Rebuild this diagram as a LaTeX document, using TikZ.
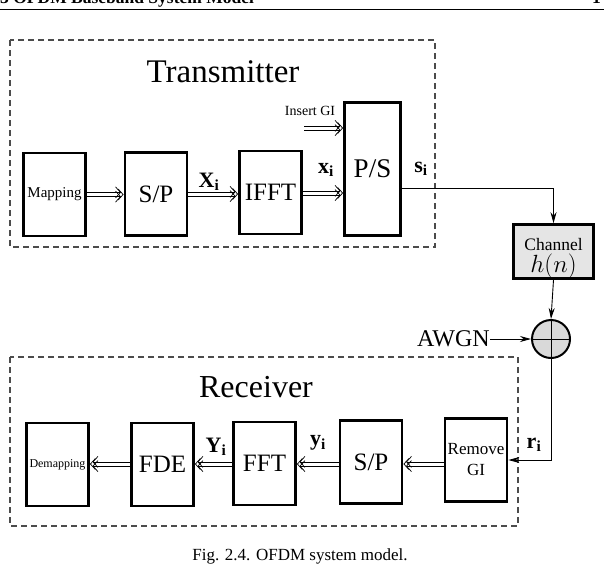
\documentclass[tikz,border=0pt]{standalone}
\usepackage{fontspec}
\setmainfont{Liberation Serif}
\usetikzlibrary{arrows.meta}
\tikzset{
  blk/.style={draw, line width=2.8pt, inner sep=0pt, align=center, minimum width=62pt, minimum height=83pt},
  dbl/.style={line width=0.7pt, dash pattern=on 0pt off 2000pt, line cap=butt,
    -{Straight Barb[length=5pt,width=11pt,line width=0.7pt]},
    postaction={draw, solid, line width=0.7pt, shorten >=2.6pt, transform canvas={yshift=2.1pt}},
    postaction={draw, solid, line width=0.7pt, shorten >=2.6pt, transform canvas={yshift=-2.1pt}}},
  sgl/.style={line width=0.9pt, -{Stealth[length=11pt,width=6pt]}},
  frame/.style={draw=black!70, line width=1.1pt, dash pattern=on 6pt off 4pt},
  lbl/.style={font=\fontsize{22}{22}\selectfont, inner sep=0pt},
}
\newcommand{\fs}[1]{\fontsize{#1}{#1}\selectfont}
\begin{document}
\begin{tikzpicture}[x=1pt,y=-1pt]
\useasboundingbox (0,0) rectangle (604,566);
\clip (0,0) rectangle (604,566);
% header
\node[anchor=base west, inner sep=0pt, font=\fs{17.5}\bfseries] (hdr) at (0,3) {3 OFDM Baseband System Model};
\node[anchor=base west, inner sep=0pt, font=\fs{17.5}\bfseries] (pg) at (592,3) {1};
\draw[line width=1pt] (0,9) -- (604,9);
% frames
\draw[frame] (10,40) rectangle (435,247);
\draw[frame] (10,357) rectangle (518,526);
\node[anchor=base, inner sep=0pt, font=\fs{33}] (tt) at (223,82) {Transmitter};
\node[anchor=base, inner sep=0pt, font=\fs{32}] (rt) at (256,397) {Receiver};
% transmitter blocks
\node[blk, font=\fs{15}] (map) at (54.5,194.5) {Mapping};
\node[blk, font=\fs{25}] (sptx) at (156,194) {S/P};
\node[blk, font=\fs{25}] (ifft) at (270.5,192.5) {IFFT};
\node[blk, font=\fs{27}, minimum width=56pt, minimum height=133pt] (ps) at (372.5,169) {P/S};
\draw[dbl] (map.east) -- (sptx.west |- map.east);
\draw[dbl] (sptx.east) -- (ifft.west |- sptx.east);
\coordinate (xin) at (303,193);
\draw[dbl] (xin) -- (ps.west |- xin);
\coordinate (gi) at (304,128);
\draw[dbl] (gi) -- (ps.west |- gi);
\node[anchor=base, inner sep=0pt, font=\fs{14}] (gitxt) at (310,115) {Insert GI};
\node[lbl] (Xi) at (209,182) {$\mathbf{X}_\mathbf{i}$};
\node[lbl] (xi) at (326,170) {$\mathbf{x}_\mathbf{i}$};
\node[lbl] (si) at (421,169) {$\mathbf{s}_\mathbf{i}$};
% channel
\node[blk, fill=black!10, line width=2.6pt, minimum width=80pt, minimum height=54pt] (ch) at (553.5,251.5) {};
\node[anchor=base, inner sep=0pt, font=\fs{17.5}] (chtxt) at (553.5,250) {Channel};
\node[anchor=base, inner sep=0pt, font=\fs{23}] (hn) at (553.5,272) {$h(n)$};
\coordinate (sline) at (402,188);
\draw[sgl] (ps.east |- sline) -| (ch.north);
% adder
\node[circle, draw, line width=2pt, fill=black!15, minimum size=38pt, inner sep=0pt] (add) at (551,339) {};
\draw[line width=0.8pt] (add.north) -- (add.south) (add.west) -- (add.east);
\draw[sgl] (ch.south) -- (add.north);
\node[anchor=east, inner sep=0pt, font=\fs{24}] (awgn) at (490,339) {AWGN};
\draw[sgl] (awgn.east) -- (add.west);
% receiver blocks
\node[blk, font=\fs{17}, align=center] (rgi) at (476,460) {Remove\\[4pt]GI};
\node[blk, font=\fs{25}] (sprx) at (371,462) {S/P};
\node[blk, font=\fs{25}] (fft) at (264.5,463.5) {FFT};
\node[blk, font=\fs{25}] (fde) at (162.5,464.5) {FDE};
\node[blk, font=\fs{12}] (demap) at (57.5,464.5) {Demapping};
\draw[sgl] (add.south) |- (rgi.east);
\coordinate (ry) at (0,464);
\draw[dbl] (rgi.west |- ry) -- (sprx.east |- ry);
\draw[dbl] (sprx.west |- ry) -- (fft.east |- ry);
\draw[dbl] (fft.west |- ry) -- (fde.east |- ry);
\draw[dbl] (fde.west |- ry) -- (demap.east |- ry);
\node[lbl] (ri) at (534,445) {$\mathbf{r}_\mathbf{i}$};
\node[lbl] (yi) at (318,443) {$\mathbf{y}_\mathbf{i}$};
\node[lbl] (Yi) at (216,447) {$\mathbf{Y}_\mathbf{i}$};
% caption
\node[anchor=base, inner sep=0pt, font=\fs{17}] (cap) at (300,560) {Fig. 2.4. OFDM system model.};
\end{tikzpicture}
\end{document}
